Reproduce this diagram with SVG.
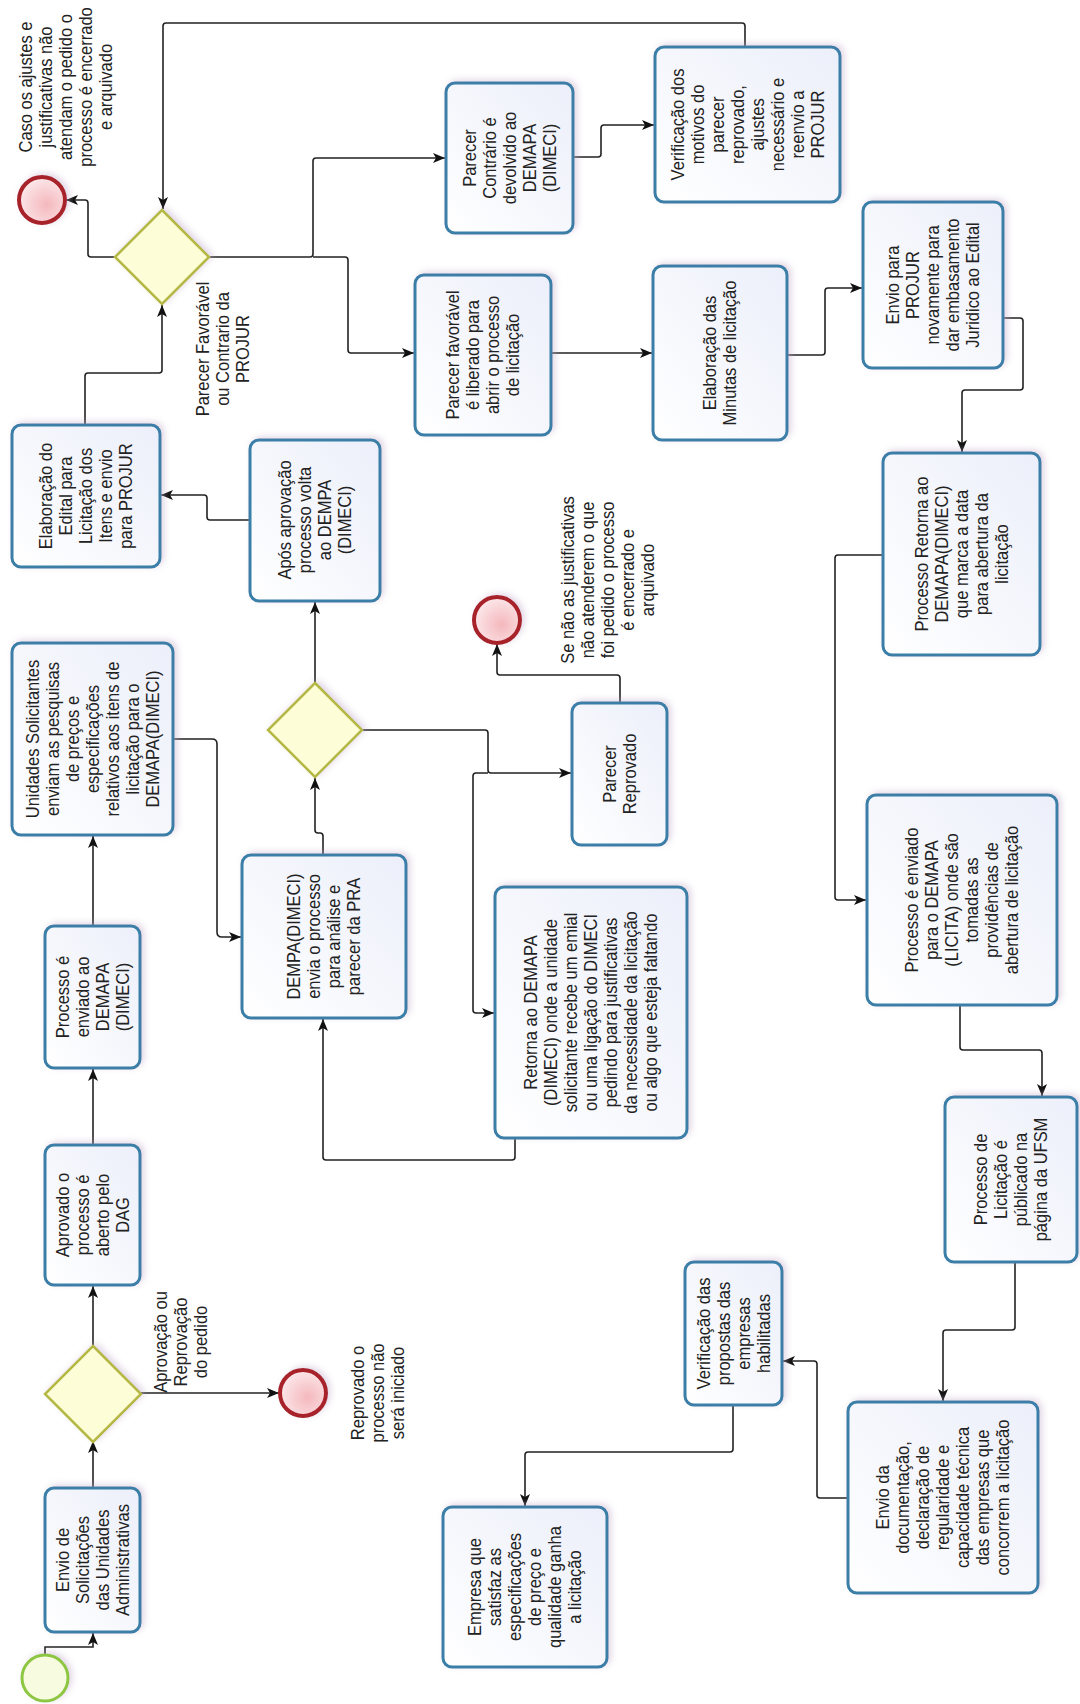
<svg xmlns="http://www.w3.org/2000/svg" width="1080" height="1704" viewBox="0 0 1080 1704">
<style>
.task{fill:url(#tg);stroke:#3a7fa8;stroke-width:3;filter:url(#sh)}
.gw{fill:#fdfdd8;stroke:#b5b842;stroke-width:2.5;filter:url(#sh)}
.end{fill:url(#eg);stroke:#a8202a;stroke-width:4;filter:url(#sh)}
.start{fill:#f7fbe0;stroke:#8dc63f;stroke-width:3;filter:url(#sh)}
.t{font-family:"Liberation Sans",Arial,sans-serif;font-size:16.5px;fill:#222;text-anchor:middle}
.c{fill:none;stroke:#222;stroke-width:1.6;marker-end:url(#arr)}
.cn{fill:none;stroke:#222;stroke-width:1.6}
</style>
<defs>
<linearGradient id="tg" x1="1" y1="0" x2="0" y2="1"><stop offset="0" stop-color="#eceffa"/><stop offset="1" stop-color="#ffffff"/></linearGradient>
<radialGradient id="eg" cx="0.6" cy="0.6" r="0.7"><stop offset="0" stop-color="#f4b8bd"/><stop offset="1" stop-color="#fdeef0"/></radialGradient>
<filter id="sh" x="-20%" y="-20%" width="140%" height="140%"><feDropShadow dx="3" dy="-2" stdDeviation="3" flood-color="#c0a8c8" flood-opacity="0.45"/></filter>
<marker id="arr" viewBox="0 0 12 10" refX="12" refY="5" markerWidth="12" markerHeight="10" orient="auto" markerUnits="userSpaceOnUse"><path d="M0,0 L12,5 L0,10 L3,5 z" fill="#111"/></marker>
</defs>
<rect width="1080" height="1704" fill="#ffffff"/>

<g id="connectors">
<path class="c" d="M45,1655 V1647 H93 V1633"/>
<path class="c" d="M93,1488 V1441"/>
<path class="c" d="M93,1346 V1286"/>
<path class="c" d="M141,1393 H279"/>
<path class="c" d="M93,1145 V1069"/>
<path class="c" d="M93,926 V836"/>
<path class="c" d="M173,739 H212 Q217,739 217,744 V932 Q217,937 222,937 H241"/>
<path class="c" d="M323,855 V836 Q323,833 320,833 H318 Q315,833 315,830 V778"/>
<path class="c" d="M315,683 V602"/>
<path class="c" d="M250,520 H210 Q207,520 207,517 V498 Q207,495 204,495 H161"/>
<path class="c" d="M85,425 V376 Q85,373 88,373 H159 Q162,373 162,370 V305"/>
<path class="c" d="M115,257 H91 Q88,257 88,254 V203 Q88,200 85,200 H66"/>
<path class="c" d="M209,257 H310 Q313,257 313,254 V161 Q313,158 316,158 H445"/>
<path class="c" d="M313,257 H345 Q348,257 348,260 V350 Q348,353 351,353 H414"/>
<path class="c" d="M573,157 H598 Q601,157 601,154 V128 Q601,125 604,125 H654"/>
<path class="c" d="M745,47 V26 Q745,23 742,23 H166 Q163,23 163,26 V209"/>
<path class="c" d="M551,353 H652"/>
<path class="c" d="M787,355 H822 Q825,355 825,352 V291 Q825,288 828,288 H862"/>
<path class="c" d="M1003,318 H1020 Q1023,318 1023,321 V387 Q1023,390 1020,390 H965 Q962,390 962,393 V452"/>
<path class="c" d="M883,555 H838 Q835,555 835,558 V897 Q835,900 838,900 H866"/>
<path class="c" d="M960,1005 V1047 Q960,1050 963,1050 H1039 Q1042,1050 1042,1053 V1096"/>
<path class="c" d="M1015,1262 V1327 Q1015,1330 1012,1330 H946 Q943,1330 943,1333 V1401"/>
<path class="c" d="M848,1498 H820 Q817,1498 817,1495 V1364 Q817,1361 814,1361 H783"/>
<path class="c" d="M733,1405 V1449 Q733,1452 730,1452 H528 Q525,1452 525,1455 V1506"/>
<path class="c" d="M515,1138 V1157 Q515,1160 512,1160 H326 Q323,1160 323,1157 V1019"/>
<path class="c" d="M362,730 H485 Q488,730 488,733 V770 Q488,773 491,773 H571"/>
<path class="c" d="M488,773 H476 Q473,773 473,776 V1010 Q473,1013 476,1013 H494"/>
<path class="c" d="M620,703 V678 Q620,675 617,675 H500 Q497,675 497,672 V644"/>
</g>

<g id="start"><circle class="start" cx="45" cy="1678" r="23"/></g>

<g id="n1"><rect class="task" x="45" y="1488" width="95" height="144" rx="9"/>
<text class="t" transform="translate(92.5,1560) rotate(-90) scale(1,1.15)"><tspan x="0" y="-20.5">Envio de</tspan><tspan x="0" y="-3.1">Solicitações</tspan><tspan x="0" y="14.3">das Unidades</tspan><tspan x="0" y="31.7">Administrativas</tspan></text></g>

<g id="gw1"><polygon class="gw" points="93,1346 141,1394 93,1442 45,1394"/></g>

<g id="end1"><circle class="end" cx="303" cy="1393" r="23"/></g>

<g id="lbl-gw1"><text class="t" transform="translate(181,1342) rotate(-90) scale(1,1.15)"><tspan x="0" y="-11.8">Aprovação ou</tspan><tspan x="0" y="5.6">Reprovação</tspan><tspan x="0" y="23">do pedido</tspan></text></g>

<g id="lbl-end1"><text class="t" transform="translate(378,1393) rotate(-90) scale(1,1.15)"><tspan x="0" y="-11.8">Reprovado o</tspan><tspan x="0" y="5.6">processo não</tspan><tspan x="0" y="23">será iniciado</tspan></text></g>

<g id="n2"><rect class="task" x="45" y="1145" width="95" height="140" rx="9"/>
<text class="t" transform="translate(92.5,1215) rotate(-90) scale(1,1.15)"><tspan x="0" y="-20.5">Aprovado o</tspan><tspan x="0" y="-3.1">processo é</tspan><tspan x="0" y="14.3">aberto pelo</tspan><tspan x="0" y="31.7">DAG</tspan></text></g>

<g id="n3"><rect class="task" x="45" y="926" width="95" height="142" rx="9"/>
<text class="t" transform="translate(92.5,997) rotate(-90) scale(1,1.15)"><tspan x="0" y="-20.5">Processo é</tspan><tspan x="0" y="-3.1">enviado ao</tspan><tspan x="0" y="14.3">DEMAPA</tspan><tspan x="0" y="31.7">(DIMECI)</tspan></text></g>

<g id="n4"><rect class="task" x="12" y="643" width="161" height="192" rx="9"/>
<text class="t" transform="translate(92.5,739) rotate(-90) scale(1,1.15)"><tspan x="0" y="-46.6">Unidades Solicitantes</tspan><tspan x="0" y="-29.2">enviam as pesquisas</tspan><tspan x="0" y="-11.8">de preços e</tspan><tspan x="0" y="5.6">especificações</tspan><tspan x="0" y="23">relativos aos itens de</tspan><tspan x="0" y="40.4">licitação para o</tspan><tspan x="0" y="57.8">DEMAPA(DIMECI)</tspan></text></g>

<g id="n5"><rect class="task" x="242" y="855" width="164" height="163" rx="9"/>
<text class="t" transform="translate(324,936.5) rotate(-90) scale(1,1.15)"><tspan x="0" y="-20.5">DEMPA(DIMECI)</tspan><tspan x="0" y="-3.1">envia o processo</tspan><tspan x="0" y="14.3">para análise e</tspan><tspan x="0" y="31.7">parecer da PRA</tspan></text></g>

<g id="gw2"><polygon class="gw" points="315,683 362,730 315,777 268,730"/></g>

<g id="n6"><rect class="task" x="250" y="440" width="130" height="161" rx="9"/>
<text class="t" transform="translate(315,520) rotate(-90) scale(1,1.15)"><tspan x="0" y="-20.5">Após aprovação</tspan><tspan x="0" y="-3.1">processo volta</tspan><tspan x="0" y="14.3">ao DEMPA</tspan><tspan x="0" y="31.7">(DIMECI)</tspan></text></g>

<g id="n7"><rect class="task" x="12" y="425" width="148" height="142" rx="9"/>
<text class="t" transform="translate(86,496) rotate(-90) scale(1,1.15)"><tspan x="0" y="-29.2">Elaboração do</tspan><tspan x="0" y="-11.8">Edital para</tspan><tspan x="0" y="5.6">Licitação dos</tspan><tspan x="0" y="23">Itens e envio</tspan><tspan x="0" y="40.4">para  PROJUR</tspan></text></g>

<g id="gw3"><polygon class="gw" points="162,210 209,257 162,304 115,257"/></g>

<g id="end3"><circle class="end" cx="42" cy="200" r="23"/></g>

<g id="lbl-end3"><text class="t" transform="translate(66,87) rotate(-90) scale(1,1.15)"><tspan x="0" y="-29.2">Caso os ajustes e</tspan><tspan x="0" y="-11.8">justificativas não</tspan><tspan x="0" y="5.6">atendam o pedido o</tspan><tspan x="0" y="23">processo é encerrado</tspan><tspan x="0" y="40.4">e arquivado</tspan></text></g>

<g id="lbl-gw3"><text class="t" transform="translate(223,349) rotate(-90) scale(1,1.15)"><tspan x="0" y="-11.8">Parecer Favorável</tspan><tspan x="0" y="5.6">ou Contrario da</tspan><tspan x="0" y="23">PROJUR</tspan></text></g>

<g id="n8"><rect class="task" x="446" y="83" width="127" height="150" rx="9"/>
<text class="t" transform="translate(509.5,158) rotate(-90) scale(1,1.15)"><tspan x="0" y="-29.2">Parecer</tspan><tspan x="0" y="-11.8">Contrário é</tspan><tspan x="0" y="5.6">devolvido ao</tspan><tspan x="0" y="23">DEMAPA</tspan><tspan x="0" y="40.4">(DIMECI)</tspan></text></g>

<g id="n9"><rect class="task" x="655" y="47" width="185" height="155" rx="9"/>
<text class="t" transform="translate(747.5,124.5) rotate(-90) scale(1,1.15)"><tspan x="0" y="-55.3">Verificação dos</tspan><tspan x="0" y="-37.9">motivos do</tspan><tspan x="0" y="-20.5">parecer</tspan><tspan x="0" y="-3.1">reprovado,</tspan><tspan x="0" y="14.3">ajustes</tspan><tspan x="0" y="31.7">necessário e</tspan><tspan x="0" y="49.1">reenvio a</tspan><tspan x="0" y="66.5">PROJUR</tspan></text></g>

<g id="n10"><rect class="task" x="415" y="275" width="136" height="160" rx="9"/>
<text class="t" transform="translate(483,355) rotate(-90) scale(1,1.15)"><tspan x="0" y="-20.5">Parecer favorável</tspan><tspan x="0" y="-3.1">é liberado para</tspan><tspan x="0" y="14.3">abrir o processo</tspan><tspan x="0" y="31.7">de licitação</tspan></text></g>

<g id="n11"><rect class="task" x="653" y="266" width="134" height="174" rx="9"/>
<text class="t" transform="translate(720,353) rotate(-90) scale(1,1.15)"><tspan x="0" y="-3.1">Elaboração das</tspan><tspan x="0" y="14.3">Minutas de licitação</tspan></text></g>

<g id="n12"><rect class="task" x="863" y="202" width="140" height="166" rx="9"/>
<text class="t" transform="translate(933,285) rotate(-90) scale(1,1.15)"><tspan x="0" y="-29.2">Envio para</tspan><tspan x="0" y="-11.8">PROJUR</tspan><tspan x="0" y="5.6">novamente para</tspan><tspan x="0" y="23">dar embasamento</tspan><tspan x="0" y="40.4">Juridico ao Edital</tspan></text></g>

<g id="n13"><rect class="task" x="883" y="453" width="157" height="202" rx="9"/>
<text class="t" transform="translate(961.5,554) rotate(-90) scale(1,1.15)"><tspan x="0" y="-29.2">Processo Retorna ao</tspan><tspan x="0" y="-11.8">DEMAPA(DIMECI)</tspan><tspan x="0" y="5.6">que marca a data</tspan><tspan x="0" y="23">para abertura da</tspan><tspan x="0" y="40.4">licitação</tspan></text></g>

<g id="n14"><rect class="task" x="867" y="795" width="190" height="210" rx="9"/>
<text class="t" transform="translate(962,900) rotate(-90) scale(1,1.15)"><tspan x="0" y="-37.9">Processo é enviado</tspan><tspan x="0" y="-20.5">para o DEMAPA</tspan><tspan x="0" y="-3.1">(LICITA) onde são</tspan><tspan x="0" y="14.3">tomadas as</tspan><tspan x="0" y="31.7">providências de</tspan><tspan x="0" y="49.1">abertura de licitação</tspan></text></g>

<g id="n15"><rect class="task" x="945" y="1097" width="132" height="165" rx="9"/>
<text class="t" transform="translate(1011,1179.5) rotate(-90) scale(1,1.15)"><tspan x="0" y="-20.5">Processo de</tspan><tspan x="0" y="-3.1">Licitação é</tspan><tspan x="0" y="14.3">públicado na</tspan><tspan x="0" y="31.7">página da UFSM</tspan></text></g>

<g id="n16"><rect class="task" x="848" y="1402" width="190" height="191" rx="9"/>
<text class="t" transform="translate(943,1497.5) rotate(-90) scale(1,1.15)"><tspan x="0" y="-46.6">Envio da</tspan><tspan x="0" y="-29.2">documentação,</tspan><tspan x="0" y="-11.8">declaração de</tspan><tspan x="0" y="5.6">regularidade e</tspan><tspan x="0" y="23">capacidade técnica</tspan><tspan x="0" y="40.4">das empresas que</tspan><tspan x="0" y="57.8">concorrem a licitação</tspan></text></g>

<g id="n17"><rect class="task" x="685" y="1262" width="97" height="143" rx="9"/>
<text class="t" transform="translate(733.5,1333.5) rotate(-90) scale(1,1.15)"><tspan x="0" y="-20.5">Verificação das</tspan><tspan x="0" y="-3.1">propostas das</tspan><tspan x="0" y="14.3">empresas</tspan><tspan x="0" y="31.7">habilitadas</tspan></text></g>

<g id="n18"><rect class="task" x="443" y="1507" width="164" height="160" rx="9"/>
<text class="t" transform="translate(525,1587) rotate(-90) scale(1,1.15)"><tspan x="0" y="-37.9">Empresa que</tspan><tspan x="0" y="-20.5">satisfaz as</tspan><tspan x="0" y="-3.1">especificações</tspan><tspan x="0" y="14.3">de preço e</tspan><tspan x="0" y="31.7">qualidade ganha</tspan><tspan x="0" y="49.1">a licitação</tspan></text></g>

<g id="n19"><rect class="task" x="495" y="887" width="192" height="251" rx="9"/>
<text class="t" transform="translate(591,1012.5) rotate(-90) scale(1,1.15)"><tspan x="0" y="-46.6">Retorna ao DEMAPA</tspan><tspan x="0" y="-29.2">(DIMECI) onde a unidade</tspan><tspan x="0" y="-11.8">solicitante recebe um emial</tspan><tspan x="0" y="5.6">ou uma ligação do DIMECI</tspan><tspan x="0" y="23">pedindo para justificativas</tspan><tspan x="0" y="40.4">da necessidade da licitação</tspan><tspan x="0" y="57.8">ou algo que esteja faltando</tspan></text></g>

<g id="n20"><rect class="task" x="572" y="703" width="95" height="142" rx="9"/>
<text class="t" transform="translate(619.5,774) rotate(-90) scale(1,1.15)"><tspan x="0" y="-3.1">Parecer</tspan><tspan x="0" y="14.3">Reprovado</tspan></text></g>

<g id="end2"><circle class="end" cx="497" cy="620" r="23"/></g>

<g id="lbl-end2"><text class="t" transform="translate(608,580) rotate(-90) scale(1,1.15)"><tspan x="0" y="-29.2">Se não as justificativas</tspan><tspan x="0" y="-11.8">não atenderem o que</tspan><tspan x="0" y="5.6">foi pedido o processo</tspan><tspan x="0" y="23">é encerrado e</tspan><tspan x="0" y="40.4">arquivado</tspan></text></g>
</svg>
